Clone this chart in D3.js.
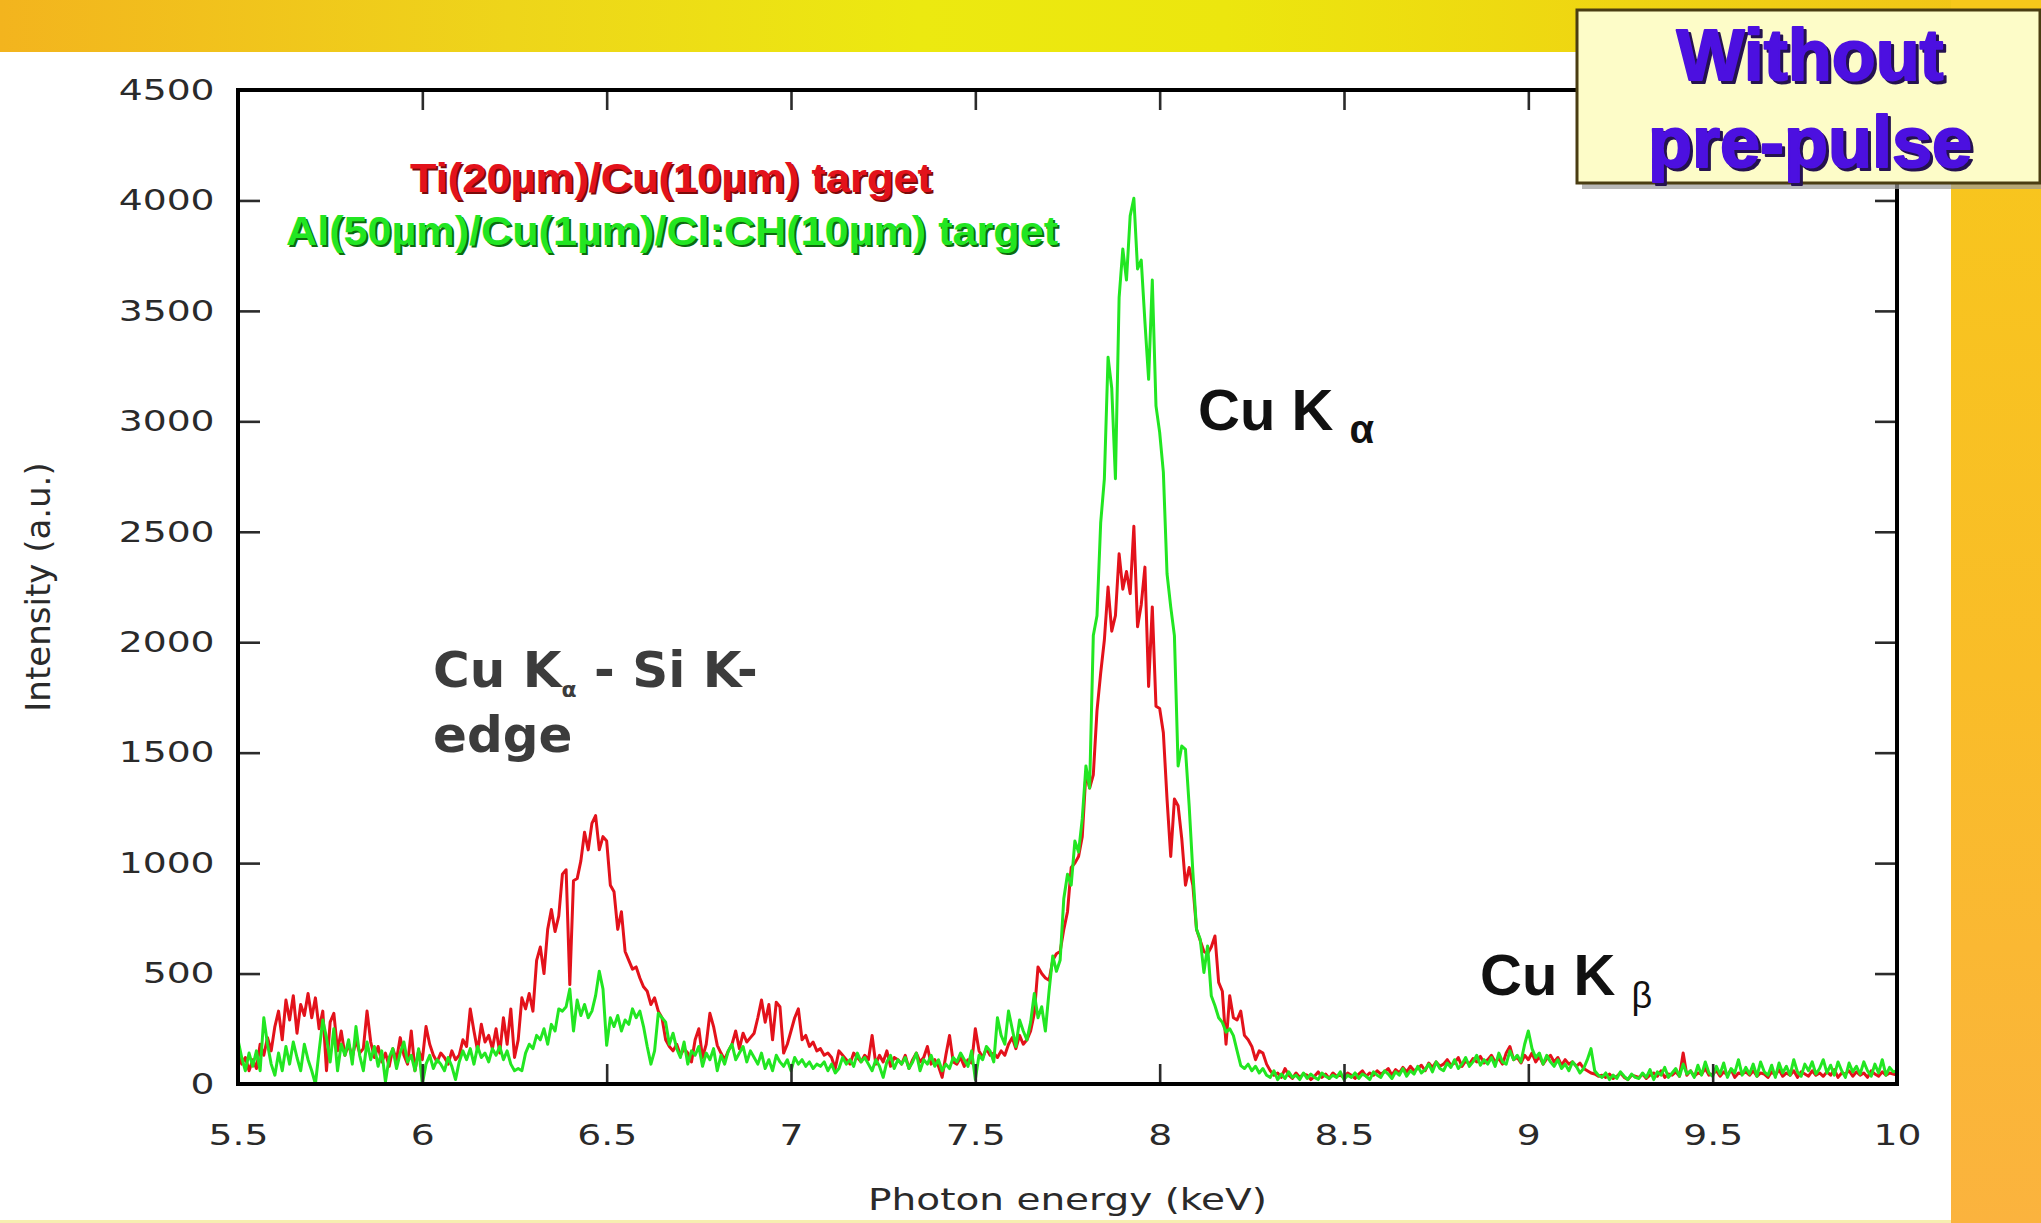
<!DOCTYPE html>
<html>
<head>
<meta charset="utf-8">
<script src="https://cdn.jsdelivr.net/npm/d3@7"></script>
<style>
  body { margin: 0; background: #fff; overflow: hidden; }
  svg { display: block; }
</style>
</head>
<body>
<svg id="chart" width="2041" height="1223"></svg>
<script>
// Photon energy grid (keV): first sample and spacing of the spectra below
const energyStart = 5.5;
const energyStep = 0.01;

// Ti(20µm)/Cu(10µm) target, intensity (a.u.), one row per 0.1 keV
const tiCuIntensity = [
  150, 90, 120, 60, 110, 70, 180, 130, 210, 150,
  260, 330, 200, 380, 290, 400, 230, 360, 310, 410,
  300, 390, 250, 330, 60, 280, 320, 150, 240, 130,
  180, 120, 200, 140, 160, 330, 190, 120, 170, 100,
  140, 80, 160, 110, 210, 130, 90, 240, 60, 150,
  110, 260, 180, 130, 100, 140, 120, 90, 150, 110,
  130, 200, 170, 340, 240, 150, 270, 190, 220, 160,
  250, 140, 300, 180, 340, 120, 200, 390, 340, 410,
  330, 560, 620, 500, 700, 790, 690, 760, 950, 970,
  450, 920, 930, 1010, 1140, 1060, 1180, 1215, 1060, 1120,
  1100, 900, 870, 700, 780, 600, 560, 520, 530, 480,
  440, 420, 360, 390, 330, 300, 200, 170, 150, 180,
  130, 160, 140, 100, 200, 250, 120, 180, 320, 260,
  175, 140, 110, 150, 180, 240, 160, 230, 190, 210,
  230, 300, 380, 280, 360, 200, 370, 350, 140, 180,
  240, 300, 340, 200, 220, 170, 190, 150, 160, 130,
  140, 120, 70, 150, 130, 110, 90, 140, 120, 100,
  130, 110, 220, 90, 130, 100, 150, 80, 120, 110,
  90, 130, 70, 110, 140, 100, 120, 170, 90, 110,
  80, 30, 130, 220, 100, 90, 120, 80, 110, 95,
  250, 150, 120, 160, 130, 140, 120, 150, 130, 180,
  210, 160, 220, 180, 200, 240, 320, 530, 500, 480,
  470, 560, 590, 600, 700, 780, 980, 1000, 1030, 1120,
  1410, 1340, 1400, 1690, 1860, 2010, 2250, 2050, 2120, 2400,
  2240, 2320, 2220, 2525, 2070, 2170, 2340, 1800, 2160, 1710,
  1700, 1590, 1290, 1030, 1290, 1260, 1110, 900, 980, 900,
  700, 650, 600, 590, 620, 670, 460, 420, 180, 400,
  300, 290, 330, 220, 200, 170, 110, 150, 140, 90,
  60, 40, 50, 30, 70, 40, 25, 50, 30, 45,
  40, 20, 35, 55, 30, 45, 25, 50, 35, 40,
  30, 50, 40, 25, 45, 60, 35, 50, 40, 60,
  45, 55, 70, 40, 65, 50, 75, 55, 80, 60,
  70, 85, 60, 95, 75, 100, 80, 90, 110, 85,
  95, 120, 80, 105, 90, 115, 100, 125, 95, 110,
  130, 100, 115, 90, 140, 170, 110, 120, 95, 130,
  110, 140, 100, 125, 90, 115, 130, 100, 120, 85,
  110, 90, 100, 80, 95, 70, 60, 50, 45, 35,
  40, 30, 45, 25, 35, 50, 30, 20, 40, 35,
  30, 45, 25, 40, 50, 35, 60, 30, 45, 40,
  55, 35, 140, 40, 60, 35, 50, 45, 70, 40,
  45, 60, 35, 55, 40, 65, 30, 50, 45, 55,
  40, 60, 35, 50, 45, 30, 55, 40, 65, 35,
  50, 40, 60, 30, 55, 45, 35, 60, 40, 50,
  35, 55, 40, 65, 30, 50, 45, 60, 35, 55,
  40, 50, 30, 60, 45, 35, 55, 40, 50, 45,
  40
];

// Al(50µm)/Cu(1µm)/Cl:CH(10µm) target, intensity (a.u.), one row per 0.1 keV
const alCuIntensity = [
  200, 120, 60, 140, 80, 150, 60, 300, 180, 90,
  40, 140, 60, 170, 90, 190, 120, 60, 180, 110,
  60, 0, 150, 290, 210, 100, 250, 60, 180, 130,
  200, 90, 260, 130, 60, 190, 110, 170, 80, 150,
  10, 120, 160, 70, 140, 190, 100, 130, 60, 160,
  0, 90, 130, 70, 110, 90, 60, 120, 80, 20,
  100, 150, 110, 160, 90, 170, 120, 140, 100, 160,
  130, 170, 110, 150, 90, 60, 70, 60, 140, 180,
  160, 220, 200, 250, 180, 270, 240, 340, 330, 350,
  430, 240, 380, 310, 360, 300, 330, 400, 510, 430,
  175, 300, 260, 310, 240, 290, 270, 340, 300, 330,
  260, 170, 90, 150, 320, 300, 280, 180, 230, 160,
  120, 190, 90, 150, 130, 170, 80, 140, 110, 160,
  60, 130, 90, 150, 180, 110, 140, 170, 100, 150,
  120, 90, 140, 70, 110, 60, 130, 100, 80, 110,
  60, 120, 90, 110, 80, 100, 70, 90, 80, 100,
  60, 90, 50, 70, 120, 90, 110, 80, 140, 100,
  120, 90, 60, 110, 80, 30, 100, 130, 70, 110,
  90, 120, 70, 100, 140, 60, 110, 90, 130, 80,
  110, 60, 90, 70, 120, 100, 140, 110, 80, 150,
  20, 130, 110, 170, 150, 100, 300, 220, 180, 330,
  250, 170, 290, 240, 200, 280, 410, 300, 350, 240,
  420, 580, 510, 560, 840, 950, 900, 1100, 1050, 1200,
  1440, 1340, 2030, 2120, 2540, 2740, 3290, 3150, 2740, 3560,
  3780, 3640, 3930, 4010, 3690, 3730, 3450, 3190, 3640, 3070,
  2950, 2770, 2310, 2160, 2030, 1440, 1530, 1515, 1260, 960,
  700, 655, 505, 625, 400, 354, 300, 279, 235, 250,
  219, 150, 83, 70, 90, 60, 80, 50, 70, 40,
  30, 60, 20, 45, 25, 55, 30, 40, 20, 50,
  25, 45, 30, 20, 50, 35, 25, 40, 30, 55,
  20, 40, 30, 50, 25, 45, 35, 20, 55, 40,
  30, 60, 45, 25, 55, 40, 70, 35, 60, 45,
  80, 50, 65, 90, 55, 100, 70, 60, 95, 75,
  110, 70, 90, 120, 80, 100, 130, 85, 110, 90,
  120, 80, 140, 100, 90, 150, 110, 130, 100, 180,
  240, 160, 120, 140, 90, 130, 100, 80, 110, 70,
  90, 60, 100, 80, 50, 70, 110, 160, 60, 40,
  30, 50, 20, 40, 25, 55, 35, 20, 45, 30,
  25, 50, 30, 65, 20, 55, 40, 75, 30, 50,
  70, 35, 90, 45, 60, 30, 85, 40, 100, 50,
  35, 80, 45, 95, 30, 70, 50, 110, 40, 75,
  45, 90, 35, 100, 55, 40, 85, 30, 95, 50,
  80, 40, 110, 55, 35, 90, 60, 100, 45, 70,
  110, 50, 85, 40, 100, 60, 30, 95, 55, 80,
  45, 100, 60, 35, 90, 50, 110, 40, 75, 55,
  60
];

const xTickValues = [5.5, 6, 6.5, 7, 7.5, 8, 8.5, 9, 9.5, 10];
const yTickValues = [0, 500, 1000, 1500, 2000, 2500, 3000, 3500, 4000, 4500];
const seriesNames = ["Ti(20µm)/Cu(10µm) target", "Al(50µm)/Cu(1µm)/Cl:CH(10µm) target"];
const seriesColors = ["#e3121b", "#22e622"];
const seriesShadows = ["#7a0a0a", "#0d6a0d"];

const W = 2041, H = 1223;
const margin = { top: 90, right: 144, bottom: 139, left: 238 };
const plotW = W - margin.left - margin.right;
const plotH = H - margin.top - margin.bottom;

const svg = d3.select("#chart");
const defs = svg.append("defs");

// ---- slide background ----
const topGrad = defs.append("linearGradient").attr("id", "topBand")
  .attr("x1", "0%").attr("x2", "100%").attr("y1", "0%").attr("y2", "0%");
[["0%", "#f3b41e"], ["25%", "#eed51a"], ["45%", "#ece910"], ["60%", "#ece60e"], ["80%", "#efd412"], ["100%", "#f2c218"]]
  .forEach(([o, c]) => topGrad.append("stop").attr("offset", o).attr("stop-color", c));
const sideGrad = defs.append("linearGradient").attr("id", "sideBand")
  .attr("x1", "0%").attr("x2", "0%").attr("y1", "0%").attr("y2", "100%");
[["0%", "#f7c81a"], ["55%", "#f9bd28"], ["100%", "#fbb33e"]]
  .forEach(([o, c]) => sideGrad.append("stop").attr("offset", o).attr("stop-color", c));

svg.append("rect").attr("width", W).attr("height", H).attr("fill", "#ffffff");
svg.append("rect").attr("x", 0).attr("y", 0).attr("width", W).attr("height", 52).attr("fill", "url(#topBand)");
svg.append("rect").attr("x", 1951).attr("y", 0).attr("width", W - 1951).attr("height", H).attr("fill", "url(#sideBand)");
svg.append("rect").attr("x", 0).attr("y", 1220).attr("width", 1951).attr("height", 3).attr("fill", "#f6eeb0");

// ---- scales ----
const x = d3.scaleLinear().domain([5.5, 10]).range([margin.left, margin.left + plotW]);
const y = d3.scaleLinear().domain([0, 4500]).range([margin.top + plotH, margin.top]);

defs.append("clipPath").attr("id", "plotClip").append("rect")
  .attr("x", margin.left).attr("y", margin.top).attr("width", plotW).attr("height", plotH);

// ---- spectra ----
const series = [tiCuIntensity, alCuIntensity].map((vals, k) => ({
  name: seriesNames[k],
  color: seriesColors[k],
  points: vals.map((v, i) => ({ e: energyStart + i * energyStep, v }))
}));

const line = d3.line().x(d => x(d.e)).y(d => y(d.v));
svg.append("g").attr("clip-path", "url(#plotClip)")
  .selectAll("path").data(series).join("path")
  .attr("d", d => line(d.points))
  .attr("fill", "none")
  .attr("stroke", d => d.color)
  .attr("stroke-width", 3)
  .attr("stroke-linejoin", "round");

// ---- axes (inward ticks on all four sides) ----
function styleAxis(g) {
  g.select(".domain").remove();
  g.selectAll(".tick line").attr("stroke", "#2b2b2b").attr("stroke-width", 2.6);
  g.selectAll(".tick text")
    .attr("fill", "#2a2a2a")
    .attr("font-family", "'DejaVu Sans', sans-serif")
    .attr("font-size", 29)
    .attr("transform", "scale(1.3,1)");
}

svg.append("g").attr("transform", `translate(0,${margin.top + plotH})`)
  .call(d3.axisBottom(x).tickValues(xTickValues).tickFormat(d3.format("~g")).tickSizeInner(-20).tickSizeOuter(0).tickPadding(40))
  .call(styleAxis);
svg.append("g").attr("transform", `translate(${margin.left},0)`)
  .call(d3.axisLeft(y).tickValues(yTickValues).tickFormat(d3.format("d")).tickSizeInner(-22).tickSizeOuter(0).tickPadding(18))
  .call(styleAxis);
svg.append("g").attr("transform", `translate(0,${margin.top})`)
  .call(d3.axisTop(x).tickValues(xTickValues).tickFormat("").tickSizeInner(-20).tickSizeOuter(0))
  .call(styleAxis);
svg.append("g").attr("transform", `translate(${margin.left + plotW},0)`)
  .call(d3.axisRight(y).tickValues(yTickValues).tickFormat("").tickSizeInner(-22).tickSizeOuter(0))
  .call(styleAxis);

// plot frame
svg.append("rect")
  .attr("x", margin.left).attr("y", margin.top)
  .attr("width", plotW).attr("height", plotH)
  .attr("fill", "none").attr("stroke", "#000").attr("stroke-width", 4);

// ---- axis titles ----
svg.append("text")
  .attr("transform", `translate(${margin.left + plotW / 2},1210) scale(1.3,1)`)
  .attr("text-anchor", "middle")
  .attr("font-family", "'DejaVu Sans', sans-serif").attr("font-size", 30)
  .attr("fill", "#2a2a2a")
  .text("Photon energy (keV)");
svg.append("text")
  .attr("transform", `translate(50,${margin.top + plotH / 2}) rotate(-90)`)
  .attr("text-anchor", "middle")
  .attr("font-family", "'DejaVu Sans', sans-serif").attr("font-size", 34)
  .attr("fill", "#2a2a2a")
  .text("Intensity (a.u.)");

// ---- series labels ----
const legendPos = [
  { x: 410, y: 192, len: 522 },
  { x: 286, y: 245, len: 772 }
];
series.forEach((s, k) => {
  const p = legendPos[k];
  [[2, 2, seriesShadows[k]], [0, 0, s.color]].forEach(([dx, dy, c]) => {
    svg.append("text")
      .attr("x", p.x + dx).attr("y", p.y + dy)
      .attr("textLength", p.len).attr("lengthAdjust", "spacingAndGlyphs")
      .attr("font-family", "'Liberation Sans', Arial, sans-serif")
      .attr("font-weight", "bold").attr("font-size", 41)
      .attr("fill", c)
      .text(s.name);
  });
});

// ---- line annotations ----
function lineLabel(xp, yp, sub, subSize, subWeight) {
  const t = svg.append("text")
    .attr("x", xp).attr("y", yp)
    .attr("font-family", "'Liberation Sans', Arial, sans-serif")
    .attr("font-weight", "bold").attr("font-size", 58)
    .attr("fill", "#111");
  t.append("tspan").text("Cu K ");
  t.append("tspan").attr("dy", 13).attr("font-size", subSize).attr("font-weight", subWeight).text(sub);
}
lineLabel(1198, 430, "α", 40, "bold");
lineLabel(1480, 995, "β", 36, "normal");

const edge = svg.append("text")
  .attr("x", 433).attr("y", 687)
  .attr("font-family", "'DejaVu Sans', sans-serif")
  .attr("font-weight", "bold").attr("font-size", 50)
  .attr("fill", "#3c3c3c");
edge.append("tspan").text("Cu K");
edge.append("tspan").attr("dy", 10).attr("font-size", 22).text("α");
edge.append("tspan").attr("dy", -10).text(" - Si K-");
svg.append("text")
  .attr("x", 433).attr("y", 752)
  .attr("font-family", "'DejaVu Sans', sans-serif")
  .attr("font-weight", "bold").attr("font-size", 50)
  .attr("fill", "#3c3c3c")
  .text("edge");

// ---- condition box ----
svg.append("rect").attr("x", 1582).attr("y", 16).attr("width", 470).attr("height", 173)
  .attr("fill", "#9a9a9a").attr("opacity", 0.7);
svg.append("rect").attr("x", 1577).attr("y", 10).attr("width", 463).attr("height", 173)
  .attr("fill", "#fdfcc8").attr("stroke", "#4a3d12").attr("stroke-width", 3);
[["Without", 80], ["pre-pulse", 167]].forEach(([txt, yy]) => {
  [[3, 3, "#25124f"], [0, 0, "#4c10e0"]].forEach(([dx, dy, c]) => {
    svg.append("text")
      .attr("x", 1810 + dx).attr("y", yy + dy)
      .attr("text-anchor", "middle")
      .attr("font-family", "'Liberation Sans', Arial, sans-serif")
      .attr("font-weight", "bold").attr("font-size", 72)
      .attr("fill", c)
      .attr("stroke", c).attr("stroke-width", 2).attr("stroke-linejoin", "round")
      .text(txt);
  });
});
</script>
</body>
</html>
